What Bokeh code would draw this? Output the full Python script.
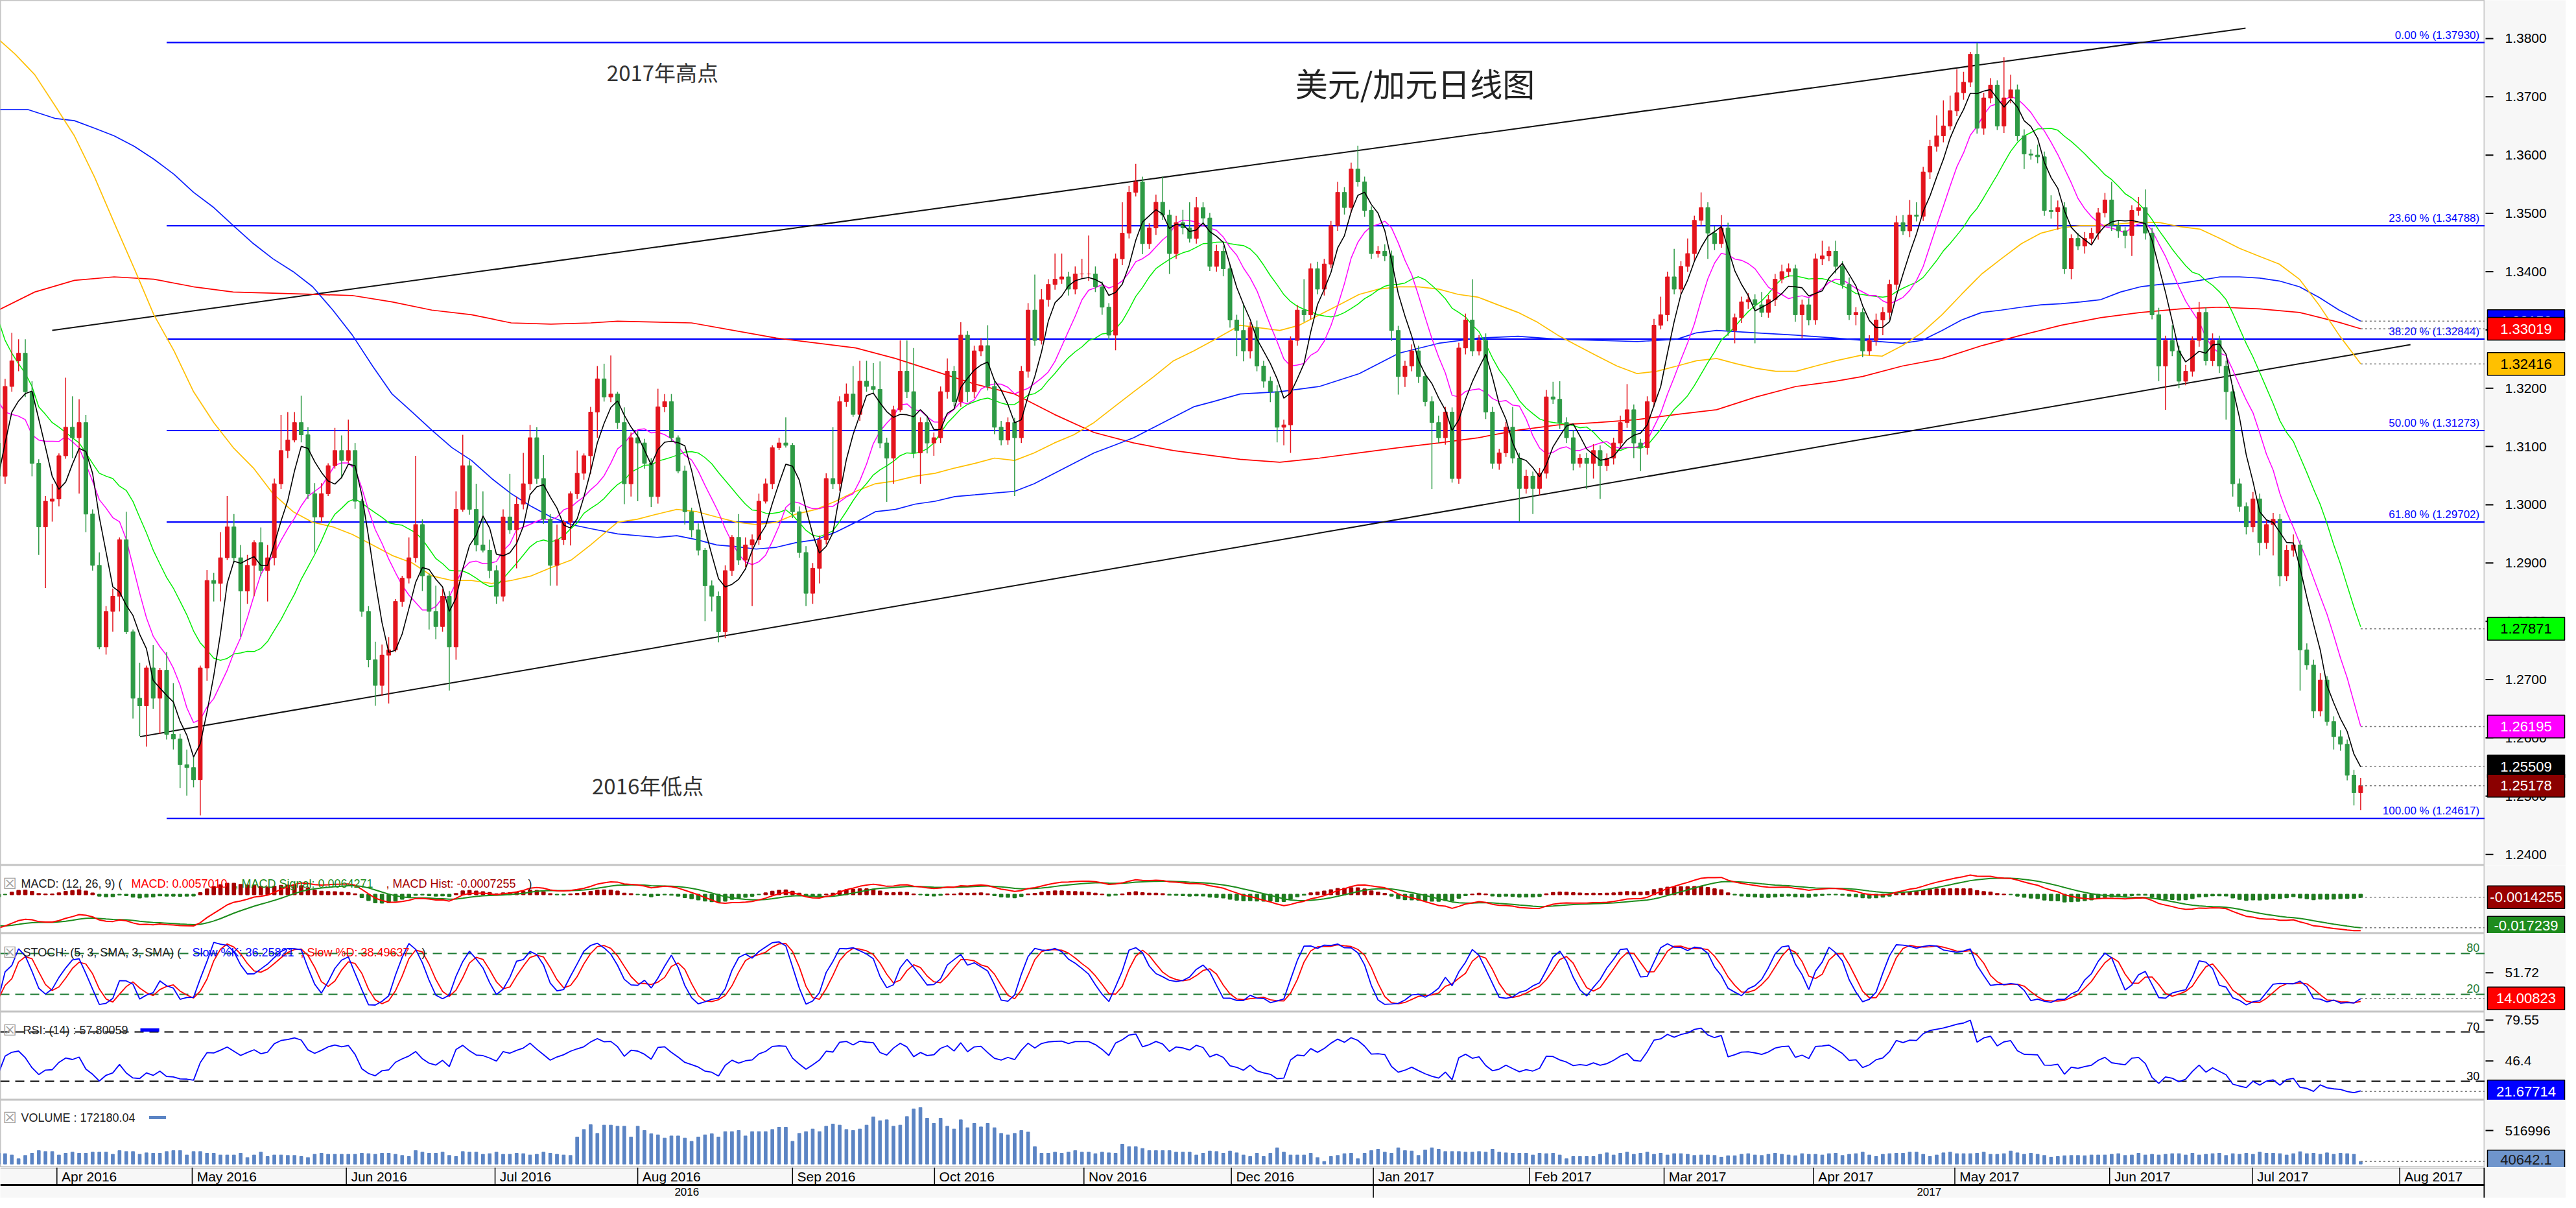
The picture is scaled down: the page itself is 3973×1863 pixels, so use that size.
import numpy as np
import pandas as pd
from bokeh.plotting import figure
from bokeh.models import Range1d, Label, ColumnDataSource
from bokeh.layouts import column, row
from bokeh.embed import file_html
from bokeh.resources import INLINE
from bokeh.core.properties import value

# ------------------------------------------------------------------ data
first_open_pips = 13106
close_pips = [
13049,13203,13247,13260,13194,13071,12962,13006,13010,13084,
13133,13115,13141,12984,12896,12756,12817,12843,12940,12782,
12668,12655,12720,12668,12716,12606,12598,12554,12549,12528,
12720,12870,12865,12909,12962,12909,12852,12896,12935,12887,
12909,13036,13093,13111,13141,13120,13019,12979,13019,13067,
13093,13076,13093,13006,12817,12734,12690,12742,12751,12834,
12874,12909,12966,12878,12817,12791,12843,12756,12992,13067,
12992,12931,12922,12887,12843,12979,12957,13001,13036,13115,
13045,12975,12896,12940,12970,13019,13054,13084,13159,13216,
13185,13190,13141,13036,13115,13106,13071,13014,13168,13177,
13115,13058,12988,12957,12922,12861,12843,12782,12887,12944,
12905,12931,12940,13006,13036,13098,13106,13102,12988,12918,
12848,12891,12940,13045,13036,13177,13190,13155,13212,13203,
13198,13106,13080,13163,13229,13194,13089,13141,13106,13115,
13194,13229,13177,13291,13194,13264,13273,13203,13133,13111,
13141,13115,13229,13334,13282,13352,13378,13387,13391,13370,
13396,13396,13396,13374,13339,13291,13422,13466,13536,13554,
13448,13475,13519,13497,13431,13484,13475,13457,13510,13492,
13409,13435,13405,13317,13299,13264,13304,13238,13212,13194,
13133,13137,13282,13334,13326,13405,13370,13413,13479,13536,
13510,13576,13554,13505,13431,13435,13427,13299,13220,13238,
13264,13220,13177,13141,13115,13159,13045,13269,13317,13264,
13282,13159,13071,13089,13133,13080,13028,13049,13028,13054,
13185,13181,13141,13115,13071,13080,13071,13093,13067,13080,
13106,13141,13163,13106,13098,13177,13308,13326,13391,13370,
13409,13431,13488,13510,13466,13448,13475,13299,13321,13348,
13352,13343,13330,13352,13387,13400,13405,13326,13343,13317,
13422,13427,13435,13409,13378,13326,13330,13264,13282,13317,
13330,13378,13484,13470,13497,13495,13571,13615,13633,13650,
13676,13707,13725,13773,13646,13698,13720,13650,13698,13712,
13633,13602,13600,13597,13505,13503,13510,13405,13457,13444,
13457,13466,13501,13523,13479,13470,13462,13505,13510,13466,
13326,13238,13282,13264,13212,13229,13282,13330,13247,13282,
13238,13194,13036,12997,12962,13010,12935,12966,12975,12878,
12922,12931,12751,12725,12646,12699,12628,12602,12589,12536,
12506,12518]
wick_up_pips = [
27,13,48,24,24,18,7,9,26,4, 85,53,40,13,8,22,9,13,4,48,
4,61,4,39,4,31,88,9,26,18, 4,18,13,44,53,22,22,18,4,26,
22,9,61,48,18,46,13,18,18,4, 39,26,53,13,4,9,31,18,22,4,
4,35,118,9,4,44,13,9,31,53, 9,44,92,18,9,13,74,13,53,22,
18,40,9,26,4,4,39,4,9,22, 26,66,4,26,9,11,7,9,31,13,
13,4,9,7,11,4,9,8,9,4, 40,13,9,13,9,4,9,44,4,9,
11,9,7,9,88,9,18,48,35,35, 40,48,9,7,53,53,75,9,12,9,
9,22,9,22,7,9,13,35,9,11, 9,8,9,12,61,18,9,44,40,9,
13,26,66,13,9,7,9,53,11,31, 9,8,13,44,9,12,22,44,18,9,
9,11,9,7,9,44,9,12,9,8, 11,9,7,9,53,9,12,9,8,18,
9,11,40,9,7,9,12,9,8,9, 11,9,7,9,12,9,8,9,11,70,
9,12,9,7,9,35,9,11,8,9, 12,26,31,9,13,7,9,11,9,8,
9,12,44,9,7,9,11,31,9,48, 9,26,8,26,9,12,22,9,7,9,
11,9,22,8,9,12,9,7,9,11, 9,26,8,18,9,12,9,7,9,11,
9,8,12,13,26,22,9,11,35,44, 26,40,18,4,20,9,12,8,70,26,
9,11,8,18,9,26,12,9,7,9, 11,9,8,12,31,9,7,9,18,31,
9,12,8,26,9,11,7,18,9,12, 8,9,11,9,7,12,9,8,11,9,
9,18,8,11,9,12,7,9,11,8, 9,13]
wick_dn_pips = [
13,13,9,18,9,22,48,105,35,13, 5,35,96,31,9,4,13,35,26,4,
35,52,70,18,61,9,18,40,48,13, 61,22,31,31,4,9,79,22,53,9,
53,13,9,13,4,13,9,61,9,4, 5,31,4,13,9,13,35,18,83,4,
9,9,8,26,31,22,9,75,22,4, 9,11,4,13,13,9,7,66,9,11,
9,8,35,35,9,40,9,11,31,44, 8,9,11,35,22,100,9,18,12,9,
7,4,22,13,9,61,26,18,11,9, 8,12,105,9,4,9,4,4,11,9,
22,18,26,8,9,12,9,4,11,9, 8,9,75,44,4,11,9,53,18,22,
9,12,8,9,18,11,9,7,12,9, 8,100,9,11,9,7,12,9,8,11,
9,7,12,9,13,8,26,11,9,7, 18,9,12,8,35,9,11,7,9,12,
8,9,13,13,44,18,13,9,11,18, 26,31,48,9,12,8,9,11,7,9,
12,9,8,11,9,7,9,18,31,18, 9,11,8,114,9,12,7,9,11,9,
8,12,9,11,7,9,57,9,44,12, 9,8,11,9,12,7,44,26,57,9,
11,8,9,26,40,12,9,7,11,9, 8,9,12,9,44,11,7,9,22,9,
12,66,8,9,11,7,9,12,40,9, 8,11,9,12,7,9,18,11,8,9,
26,12,9,7,11,9,8,12,9,11, 7,9,12,8,9,11,9,7,12,9,
9,26,8,11,9,12,31,9,18,7, 13,9,11,8,9,12,22,35,9,11,
8,26,75,9,12,7,9,11,8,9, 12,48,22,9,13,9,22,11,53,18,
9,11,70,8,12,9,7,22,11,9, 22,30]
volume_k = [
167,160,140,83,133,167,207,193,193,140, 167,183,167,167,183,183,183,150,207,193,
193,150,173,167,167,193,207,207,140,193, 193,167,167,140,140,140,167,100,140,183,
117,140,140,133,133,117,100,150,167,150, 150,150,150,150,167,160,150,167,167,150,
133,117,207,183,167,167,183,133,117,193, 183,183,150,160,183,150,150,167,160,140,
150,183,167,150,140,133,
417,533,607,473,600,600,583,583,417,583, 517,467,450,400,433,433,400,350,417,450,
467,417,500,500,517,433,500,500,500,533, 567,567,350,473,500,540,500,583,617,600,
533,517,540,600,727,667,683,583,
600,733,850,873,707,627,707,583,540,683, 560,627,573,627,560,473,450,473,517,493,267,
167,167,183,167,183,207,183,183,160,183,173,167,
307,267,267,240,207,207,207,207,183,183, 183,140,167,200,193,167,200,173,140,117,
167,117,167,250,183,140,140,140,167,100, 40,117,133,160,167,83,167,207,227,183,
167,250,207,200,133,217,250,227,193,193, 193,183,183,193,183,227,183,173,167,167,
167,140,167,160,167,140,83,117,117,117, 117,150,173,140,167,183,150,167,183,150,
167,140,160,160,150,133,140,140,133,107, 127,127,150,160,140,133,150,167,150,140,
127,160,150,
150,140,160,167,133,150,160,183,140,117, 150,160,167,167,183,183,150,117,140,173,
183,160,160,160,167,183,150,150,160,200, 173,150,167,150,133,107,117,127,133,133,
127,140,140,140,150,160,133,140,167,140, 150,140,150,160,160,140,167,140,150,160,
167,133,160,150,167,150,183,167,167,160, 140,160,190,160,167,150,173,150,167,160,
150,40]

# moving-average values read at the left edge (before enough history)
sma5_head = [13049, 13106, 13159, 13178]
sma10_head = [13177, 13159, 13155, 13152, 13146, 13120, 13111, 13109, 13109]
sma20_head = [13317, 13282, 13260, 13242, 13225, 13203, 13168, 13155, 13141, 13133,
              13124, 13115, 13106, 13089, 13071, 13054, 13049, 13045, 13032]
# long moving averages (bar index, value in pips)
sma50_idx = [0, 2.5, 5.4, 8.4, 11.3, 14.3, 17.2, 20.2, 23.1, 26.1, 29.0, 32.0, 34.9, 37.9, 40.8, 43.8,
             46.7, 49.7, 52.6, 55.6, 58.5, 61.5, 64.4, 67.4, 70.3, 73.3, 76.2, 79.2, 82.1, 85.1, 88.0, 92.0,
             94.9, 97.9, 100.8, 103.8, 106.7, 109.7, 112.6, 115.6, 118.5, 121.5, 124.4, 127.4, 130.3, 133.3,
             136.2, 139.2, 142.1, 145.1, 148.0, 151.0, 153.9, 156.9, 159.8, 162.8, 165.8, 168.7, 171.7, 174.6,
             177.6, 180.5, 184.5, 190.4, 193.3, 196.3, 199.2, 202.2, 205.1, 208.1, 211.0, 214.0, 216.9, 219.9,
             222.8, 225.8, 228.7, 231.7, 234.6, 237.6, 240.5, 243.5, 246.4, 249.4, 252.3, 255.3, 258.2, 261.2,
             264.1, 267.1, 270.0, 273.0, 277.0, 279.9, 282.9, 285.8, 288.8, 291.7, 294.7, 297.6, 300.6, 303.5,
             306.5, 309.4, 312.4, 315.3, 318.3, 321.2, 324.2, 327.1, 330.1, 333.0, 336.0, 338.9, 341.9, 344.8,
             347.8, 351.0]
sma50_val = [13799, 13773, 13738, 13685, 13633, 13562, 13484, 13405, 13326, 13264, 13194, 13141, 13098, 13063,
             13019, 12988, 12970, 12962, 12949, 12931, 12913, 12900, 12878, 12870, 12870, 12865, 12870, 12878,
             12892, 12905, 12931, 12970, 12975, 12984, 12992, 12988, 12979, 12970, 12966, 12970, 12984, 12992,
             13006, 13023, 13036, 13041, 13049, 13054, 13063, 13071, 13080, 13076, 13089, 13106, 13120, 13141,
             13168, 13194, 13220, 13247, 13264, 13282, 13308, 13299, 13308, 13326, 13343, 13361, 13370, 13374,
             13374, 13370, 13361, 13356, 13343, 13330, 13313, 13291, 13273, 13255, 13238, 13225, 13229, 13238,
             13247, 13251, 13242, 13234, 13229, 13229, 13238, 13247, 13257, 13255, 13273, 13295, 13326, 13361,
             13396, 13422, 13448, 13466, 13475, 13479, 13479, 13482, 13485, 13484, 13477, 13473, 13457, 13440,
             13426, 13413, 13387, 13343, 13291, 13242]
sma100_idx = [0, 4.4, 8.4, 11.3, 14.3, 17.2, 20.2, 23.1, 26.1, 29.0, 32.0, 34.9, 37.9, 40.8, 43.8, 46.7, 49.7,
              52.6, 55.6, 58.5, 61.5, 64.4, 67.4, 70.3, 73.3, 76.2, 79.2, 82.1, 85.1, 88.0, 92.0, 97.9, 100.8,
              103.8, 106.7, 109.7, 112.6, 115.6, 118.5, 121.5, 124.4, 127.4, 130.3, 133.3, 136.2, 139.2, 142.1,
              145.1, 148.0, 151.0, 153.9, 156.9, 159.8, 162.8, 165.8, 168.7, 171.7, 174.6, 177.6, 180.5, 184.5,
              190.4, 196.3, 202.2, 208.1, 214.0, 219.9, 225.8, 231.7, 237.6, 243.5, 249.4, 252.3, 255.3, 261.2,
              267.1, 273.0, 277.0, 282.9, 285.8, 288.8, 291.7, 294.7, 297.6, 300.6, 303.5, 306.5, 309.4, 312.4,
              315.3, 318.3, 321.2, 324.2, 327.1, 330.1, 333.0, 336.0, 338.9, 341.9, 344.8, 347.8, 351.0]
sma100_val = [13678, 13678, 13663, 13659, 13646, 13633, 13615, 13593, 13567, 13536, 13510, 13479, 13448, 13422,
              13400, 13374, 13334, 13291, 13238, 13190, 13159, 13128, 13098, 13076, 13045, 13019, 12997, 12979,
              12966, 12959, 12950, 12944, 12947, 12940, 12931, 12928, 12924, 12927, 12935, 12940, 12953, 12970,
              12988, 12992, 13001, 13006, 13014, 13017, 13020, 13023, 13036, 13054, 13071, 13089, 13102, 13115,
              13133, 13150, 13168, 13177, 13190, 13194, 13203, 13225, 13260, 13277, 13286, 13289, 13284, 13282,
              13280, 13284, 13295, 13299, 13295, 13291, 13286, 13282, 13277, 13282, 13299, 13317, 13330, 13334,
              13339, 13343, 13345, 13348, 13352, 13365, 13374, 13378, 13380, 13385, 13391, 13391, 13389, 13384,
              13374, 13356, 13334, 13315]
sma200_idx = [0, 5.4, 11.3, 17.2, 23.1, 29.0, 34.9, 40.8, 46.7, 52.6, 58.5, 64.4, 70.3, 76.2, 82.1, 88.0, 92.0,
              103.0, 115.6, 127.4, 133.3, 139.2, 145.1, 151.0, 156.9, 162.8, 168.7, 174.6, 184.5, 190.4, 196.3,
              202.2, 208.1, 214.0, 219.9, 225.8, 231.7, 237.6, 243.5, 249.4, 255.3, 261.2, 267.1, 273.0, 277.0,
              282.9, 288.8, 294.7, 300.6, 306.5, 312.4, 318.3, 324.2, 330.1, 336.0, 341.9, 347.8, 351.0]
sma200_val = [13334, 13365, 13385, 13391, 13387, 13374, 13365, 13363, 13361, 13359, 13348, 13334, 13326, 13312,
              13310, 13312, 13315, 13312, 13286, 13269, 13251, 13229, 13207, 13190, 13155, 13124, 13106, 13093,
              13078, 13073, 13080, 13089, 13098, 13106, 13115, 13128, 13137, 13141, 13146, 13155, 13163, 13185,
              13203, 13212, 13220, 13238, 13251, 13273, 13291, 13308, 13321, 13330, 13336, 13339, 13336, 13330,
              13313, 13302]

ema12_start, ema26_start, signal_start = 1.3260, 1.3430, -0.0160
rsi_gain_start, rsi_loss_start = 0.0016, 0.0024

fib_pct = ["0.00", "23.60", "38.20", "50.00", "61.80", "100.00"]
fib_val = [1.37930, 1.34788, 1.32844, 1.31273, 1.29702, 1.24617]
upper_trend = [(8.0, 1.32992), (333.9, 1.38178)]
lower_trend = [(21.05, 1.26020), (358.4, 1.32747)]

price_ticks = [1.24, 1.25, 1.26, 1.27, 1.28, 1.29, 1.30, 1.31, 1.32, 1.33, 1.34, 1.35, 1.36, 1.37, 1.38]
month_pos = [8.7, 28.8, 51.7, 73.8, 95.0, 118.0, 139.1, 161.3, 183.2, 204.3, 227.5, 247.5, 269.7,
             290.7, 313.7, 334.9, 356.8]
month_lbl = ["Apr 2016", "May 2016", "Jun 2016", "Jul 2016", "Aug 2016", "Sep 2016", "Oct 2016",
             "Nov 2016", "Dec 2016", "Jan 2017", "Feb 2017", "Mar 2017", "Apr 2017", "May 2017",
             "Jun 2017", "Jul 2017", "Aug 2017"]
year_lbl = ["2016", "2017"]

main_last_vals = [1.33150, 1.33019, 1.32416, 1.27871, 1.26195, 1.25509, 1.25178]
main_last_txt = ["1.33150", "1.33019", "1.32416", "1.27871", "1.26195", "1.25509", "1.25178"]
macd_last_vals = [-0.0014255, -0.017239]
macd_last_txt = ["-0.0014255", "-0.017239"]
stoch_last_val, stoch_last_txt = 14.00823, "14.00823"
rsi_last_val, rsi_last_txt = 21.67714, "21.67714"
vol_last_val, vol_last_txt = 40642.1, "40642.1"

# ------------------------------------------------------------------ derived series
n = len(close_pips)
def fit(a, fill):
    a = list(a)[:n]
    return a + [fill] * (n - len(a))
wick_up_pips = fit(wick_up_pips, 9)
wick_dn_pips = fit(wick_dn_pips, 9)
volume_k = fit(volume_k, 150)

idx = np.arange(n, dtype=float)
c = np.array(close_pips) / 10000.0
o = np.concatenate([[first_open_pips / 10000.0], c[:-1]])
h = np.maximum(o, c) + np.array(wick_up_pips) / 10000.0
l = np.minimum(o, c) - np.array(wick_dn_pips) / 10000.0
vol = np.array(volume_k) * 1000.0

s = pd.Series(c)
sma5 = s.rolling(5).mean().to_numpy(); sma5[:len(sma5_head)] = np.array(sma5_head) / 1e4
sma10 = s.rolling(10).mean().to_numpy(); sma10[:len(sma10_head)] = np.array(sma10_head) / 1e4
sma20 = s.rolling(20).mean().to_numpy(); sma20[:len(sma20_head)] = np.array(sma20_head) / 1e4

e12, e26, sig = ema12_start, ema26_start, signal_start
macd, signal = np.zeros(n), np.zeros(n)
for i in range(n):
    e12 += (c[i] - e12) * 2 / 13
    e26 += (c[i] - e26) * 2 / 27
    m = e12 - e26
    sig += (m - sig) * 2 / 10
    macd[i], signal[i] = m, sig
hist = macd - signal

ll = pd.Series(l).rolling(5, min_periods=1).min().to_numpy()
hh = pd.Series(h).rolling(5, min_periods=1).max().to_numpy()
rawk = (c - ll) / np.maximum(hh - ll, 1e-9) * 100
slowk = pd.Series(rawk).rolling(3, min_periods=1).mean().to_numpy()
slowd = pd.Series(slowk).rolling(3, min_periods=1).mean().to_numpy()

ag, al = rsi_gain_start, rsi_loss_start
rsi = np.zeros(n)
prev = o[0]
for i in range(n):
    d = c[i] - prev
    prev = c[i]
    ag = (ag * 13 + max(d, 0)) / 14
    al = (al * 13 + max(-d, 0)) / 14
    rsi[i] = 100 - 100 / (1 + ag / al)

# ------------------------------------------------------------------ layout helpers
FW, RB = 3832, 125
FONT = "Liberation Sans"
AXBG = "#f7f7f7"
xr = Range1d(0.29, 369.46)
last_x = idx[-1]
right_x = 369.46

def make_fig(hgt, yr):
    p = figure(frame_width=FW, frame_height=hgt, x_range=xr, y_range=yr,
               output_backend="svg", toolbar_location=None, tools="",
               x_axis_location=None, y_axis_location=None, min_border=0,
               background_fill_color="white", border_fill_color=AXBG,
               outline_line_color="#c4c4c4", outline_line_width=2)
    p.grid.visible = False
    return p

def make_side(hgt, yr, ticks, tick_txt, boxes):
    sd = figure(frame_width=RB, frame_height=hgt, x_range=Range1d(0, RB), y_range=yr,
                output_backend="svg", toolbar_location=None, tools="",
                x_axis_location=None, y_axis_location=None, min_border=0,
                background_fill_color=AXBG, border_fill_color=AXBG, outline_line_color=None)
    sd.grid.visible = False
    k = len(ticks)
    if k:
        sd.segment(x0=[1] * k, x1=[13] * k, y0=ticks, y1=ticks, line_color="black", line_width=2)
        sd.text(x=[31] * k, y=ticks, text=tick_txt, text_font=value(FONT), text_font_size="21px",
                text_color="black", text_align="left", text_baseline="middle")
    upp = (yr.end - yr.start) / hgt          # data units per pixel
    half = 17.5 * upp
    for v, t, bg, fg, lift in boxes:
        sd.quad(left=[4], right=[123], bottom=[v - half], top=[v + half],
                fill_color=bg, line_color="black", line_width=1.5)
        sd.text(x=[63.5], y=[v + lift * upp], text=[t], text_font=value(FONT), text_font_size="22px",
                text_color=fg, text_align="center", text_baseline="middle")
    return sd

def legend(p, y_from_bottom, parts):
    p.add_layout(Label(x=4, y=y_from_bottom, x_units="screen", y_units="screen", text="\u2612",
                       text_font="DejaVu Sans", text_font_size="24px", text_color="#a0a0a0",
                       text_baseline="middle"))
    for xx, txt, col in parts:
        p.add_layout(Label(x=xx, y=y_from_bottom, x_units="screen", y_units="screen", text=txt,
                           text_font=FONT, text_font_size="18px", text_color=col,
                           text_baseline="middle", text_align="left"))

# ------------------------------------------------------------------ main price panel
yr_main = Range1d(1.238128, 1.386555)
pm = make_fig(1334, yr_main)

pm.segment(x0=[25.0] * len(fib_val), x1=[right_x] * len(fib_val), y0=fib_val, y1=fib_val,
           line_color="#0000ff", line_width=2.2)
pm.text(x=[right_x - 0.8] * len(fib_val), y=[v + 0.0002 for v in fib_val],
        text=[f"{a} % ({b:.5f})" for a, b in zip(fib_pct, fib_val)],
        text_font=value(FONT), text_font_size="17px", text_color="#0000ff",
        text_align="right", text_baseline="bottom")

for (xa, ya), (xb, yb) in [upper_trend, lower_trend]:
    pm.segment(x0=[xa], y0=[ya], x1=[xb], y1=[yb], line_color="#111111", line_width=2)

pm.line(sma200_idx, np.array(sma200_val) / 1e4, line_color="#ff0000", line_width=1.7)
pm.line(sma100_idx, np.array(sma100_val) / 1e4, line_color="#0a1eff", line_width=1.7)
pm.line(sma50_idx, np.array(sma50_val) / 1e4, line_color="#ffbf00", line_width=1.7)
pm.line(idx, sma20, line_color="#00ee00", line_width=1.5)
pm.line(idx, sma10, line_color="#ff00ff", line_width=1.5)

up = c >= o
col = np.where(up, "#e3141d", "#2e9a45")
src = ColumnDataSource(dict(x=idx, o=o, c=c, h=h, l=l, top=np.maximum(o, c), bot=np.minimum(o, c), col=col))
pm.segment(x0="x", x1="x", y0="l", y1="h", line_color="col", line_width=1.5, source=src)
pm.vbar(x="x", width=0.58, top="top", bottom="bot", fill_color="col", line_color="col", line_width=1, source=src)
pm.line(idx, sma5, line_color="black", line_width=1.6)

pm.segment(x0=[last_x] * len(main_last_vals), x1=[right_x] * len(main_last_vals),
           y0=main_last_vals, y1=main_last_vals, line_color="#7a7a7a", line_width=1.5, line_dash="3 4")

pm.text(x=[90.4], y=[1.37424], text=["2017年高点"], text_font=value("Noto Sans CJK SC"),
        text_font_size="33px", text_color="#333333", text_baseline="middle", text_align="left")
pm.text(x=[88.2], y=[1.25188], text=["2016年低点"], text_font=value("Noto Sans CJK SC"),
        text_font_size="33px", text_color="#333333", text_baseline="middle", text_align="left")
pm.text(x=[192.7], y=[1.37247], text=["美元/加元日线图"], text_font=value("Noto Sans CJK SC"),
        text_font_size="50px", text_color="#222222", text_baseline="middle", text_align="left")

main_box_bg = ["#0000ff", "#ff0000", "#ffc000", "#00ff00", "#ff00ff", "#000000", "#8b0000"]
main_box_fg = ["white", "white", "black", "black", "white", "white", "white"]
sm = make_side(1334, yr_main, price_ticks, [f"{t:.4f}" for t in price_ticks],
               [(v, t, bg, fg, 0) for v, t, bg, fg in zip(main_last_vals, main_last_txt, main_box_bg, main_box_fg)])

# ------------------------------------------------------------------ MACD panel
yr_macd = Range1d(-0.0202, 0.0151)
pmacd = make_fig(105, yr_macd)
hcol = np.where(hist >= 0, "#a40000", "#1f7a1f")
pmacd.vbar(x=idx, width=0.45, top=hist, bottom=0, fill_color=hcol, line_color=hcol, line_width=2)
pmacd.line(idx, signal, line_color="#1c8c1c", line_width=2)
pmacd.line(idx, macd, line_color="#ff0000", line_width=2)
pmacd.segment(x0=[last_x] * 2, x1=[right_x] * 2, y0=macd_last_vals, y1=macd_last_vals,
              line_color="#7a7a7a", line_width=1.5, line_dash="3 4")
legend(pmacd, 77, [(32, "MACD: (12, 26, 9) (", "#222222"), (202, "MACD: 0.0057010", "#ff0000"),
                   (362, ", MACD Signal: 0.0064271", "#1c8c1c"), (595, ", MACD Hist: -0.0007255", "#a40000"),
                   (814, ")", "#222222")])
smacd = make_side(105, yr_macd, [], [],
                  [(macd_last_vals[0], macd_last_txt[0], "#990000", "white", 0),
                   (macd_last_vals[1], macd_last_txt[1], "#1e8c1e", "white", 3)])

# ------------------------------------------------------------------ Stochastic panel
yr_st = Range1d(-5.7, 109.5)
pst = make_fig(121, yr_st)
for lv in (80, 20):
    pst.segment(x0=[0.29], x1=[right_x], y0=[lv], y1=[lv], line_color="#1e7b34", line_width=2, line_dash="14 9")
pst.text(x=[right_x - 0.8] * 2, y=[82, 22], text=["80", "20"], text_font=value(FONT), text_font_size="18px",
         text_color="#1e7b34", text_align="right", text_baseline="bottom")
pst.line(idx, slowd, line_color="#ff0000", line_width=1.8)
pst.line(idx, slowk, line_color="#0000ff", line_width=1.8)
pst.segment(x0=[last_x], x1=[right_x], y0=[stoch_last_val], y1=[stoch_last_val],
            line_color="#7a7a7a", line_width=1.5, line_dash="3 4")
legend(pst, 92, [(35, "STOCH: (5, 3, SMA, 3, SMA) (", "#222222"), (296, "Slow %K: 36.25821", "#0000ff"),
                 (463, ", Slow %D: 38.49637", "#ff0000"), (650, ")", "#222222")])
sst = make_side(121, yr_st, [51.72], ["51.72"], [(stoch_last_val, stoch_last_txt, "#ff0000", "white", 0)])

# ------------------------------------------------------------------ RSI panel
yr_rsi = Range1d(14.7, 86.3)
prs = make_fig(136, yr_rsi)
for lv in (70, 30):
    prs.segment(x0=[0.29], x1=[right_x], y0=[lv], y1=[lv], line_color="black", line_width=2, line_dash="14 9")
prs.text(x=[right_x - 0.8] * 2, y=[71, 31], text=["70", "30"], text_font=value(FONT), text_font_size="18px",
         text_color="black", text_align="right", text_baseline="bottom")
prs.line(idx, rsi, line_color="#0000ff", line_width=1.8)
prs.segment(x0=[last_x], x1=[right_x], y0=[rsi_last_val], y1=[rsi_last_val],
            line_color="#7a7a7a", line_width=1.5, line_dash="3 4")
prs.segment(x0=[21.1], x1=[23.9], y0=[71.6], y1=[71.6], line_color="#0000ff", line_width=5)
legend(prs, 108, [(35, "RSI: (14) : 57.80059", "#222222")])
srs = make_side(136, yr_rsi, [79.55, 46.4], ["79.55", "46.4"],
                [(rsi_last_val, rsi_last_txt, "#0000ff", "white", 0)])

# ------------------------------------------------------------------ Volume panel
yr_vol = Range1d(-53000, 987000)
pvo = make_fig(104, yr_vol)
pvo.vbar(x=idx, width=0.45, top=vol, bottom=0, fill_color="#5b84c4", line_color="#5b84c4")
pvo.segment(x0=[last_x], x1=[right_x], y0=[vol_last_val], y1=[vol_last_val],
            line_color="#7a7a7a", line_width=1.5, line_dash="3 4")
pvo.segment(x0=[22.4], x1=[24.9], y0=[717000], y1=[717000], line_color="#5b84c4", line_width=5)
legend(pvo, 77, [(32, "VOLUME : 172180.04", "#222222")])
svo = make_side(104, yr_vol, [516996], ["516996"], [(vol_last_val, vol_last_txt, "#6f95cc", "#1a1a1a", 3)])

# ------------------------------------------------------------------ date axis strip
pax = figure(frame_width=FW, frame_height=47, x_range=xr, y_range=Range1d(0, 47),
             output_backend="svg", toolbar_location=None, tools="",
             x_axis_location=None, y_axis_location=None,
             min_border_left=0, min_border_right=RB, min_border_top=0, min_border_bottom=0,
             background_fill_color=AXBG, border_fill_color=AXBG, outline_line_color=None)
pax.grid.visible = False
pax.segment(x0=[0.29], x1=[right_x], y0=[46], y1=[46], line_color="#c4c4c4", line_width=2)
pax.segment(x0=month_pos, x1=month_pos, y0=[20] * len(month_pos), y1=[47] * len(month_pos),
            line_color="black", line_width=1.5)
pax.segment(x0=[right_x - 0.1], x1=[right_x - 0.1], y0=[0], y1=[47], line_color="black", line_width=2)
pax.text(x=[m + 0.7 for m in month_pos], y=[33] * len(month_pos), text=month_lbl,
         text_font=value(FONT), text_font_size="21px", text_color="black",
         text_align="left", text_baseline="middle")
pax.segment(x0=[0.29], x1=[right_x], y0=[20], y1=[20], line_color="black", line_width=3)
jan = month_pos[9]
pax.segment(x0=[jan], x1=[jan], y0=[0], y1=[20], line_color="black", line_width=1.5)
pax.text(x=[(0.29 + jan) / 2, (jan + right_x) / 2], y=[10, 10], text=year_lbl,
         text_font=value(FONT), text_font_size="17px", text_color="black",
         text_align="center", text_baseline="middle")

layout = column(row(pm, sm, spacing=0), row(pmacd, smacd, spacing=0), row(pst, sst, spacing=0),
                row(prs, srs, spacing=0), row(pvo, svo, spacing=0), pax, spacing=0)
open("out.html", "w").write(file_html(layout, INLINE))
